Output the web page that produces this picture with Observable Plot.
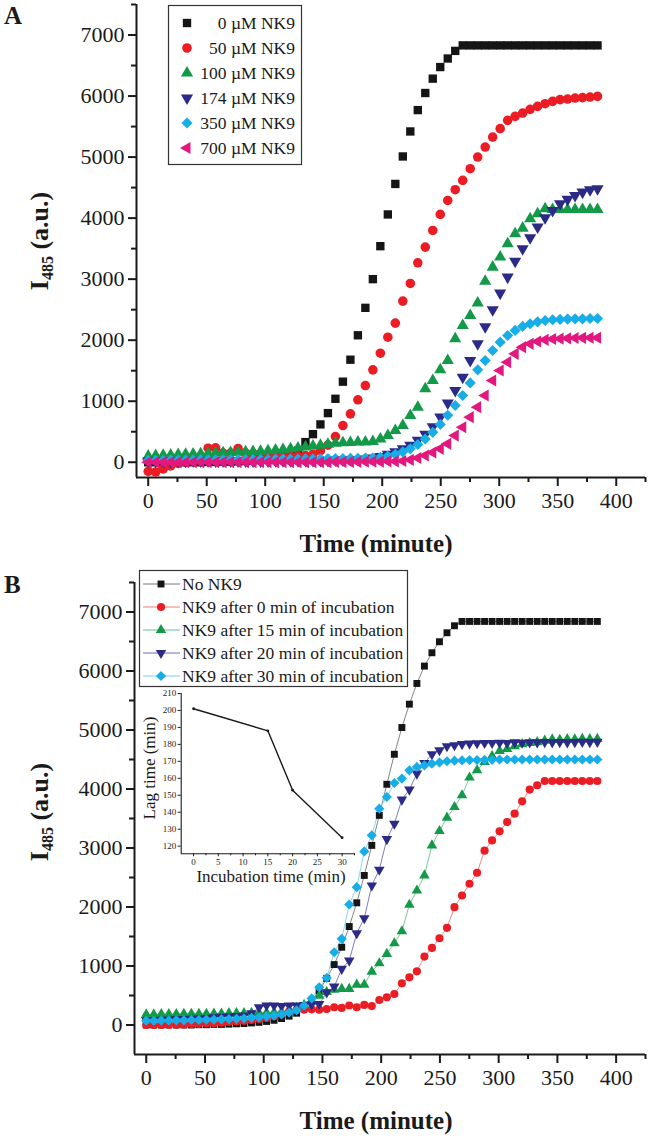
<!DOCTYPE html>
<html><head><meta charset="utf-8">
<script src="https://cdn.jsdelivr.net/npm/d3@7"></script>
<script src="https://cdn.jsdelivr.net/npm/@observablehq/plot@0.6"></script>
<style>
body{margin:0;background:#fff;}
#page{position:relative;width:652px;height:1139px;overflow:hidden;background:#fff;}
.layer{position:absolute;}
</style></head><body><div id="page"></div>
<script>
// ---------------- DATA ----------------
const timeMin = [0,6.4,12.8,19.2,25.6,32,38.4,44.8,51.2,57.6,64,70.4,76.8,83.2,89.6,96,102.4,108.8,115.2,121.6,128,134.4,140.8,147.2,153.6,160,166.4,172.8,179.2,185.6,192,198.4,204.8,211.2,217.6,224,230.4,236.8,243.2,249.6,256,262.4,268.8,275.2,281.6,288,294.4,300.8,307.2,313.6,320,326.4,332.8,339.2,345.6,352,358.4,364.8,371.2,377.6,384];

// Panel A: NK9 concentrations
const labelsA = ["0 \u00b5M NK9","50 \u00b5M NK9","100 \u00b5M NK9","174 \u00b5M NK9","350 \u00b5M NK9","700 \u00b5M NK9"];
const a0 = [0,0,0,0,0,0,0,0,5,5,10, 10,15,20,30,40,55,75,100,140,190,
  330,460,620,805,1040,1320,1680,2080,2530,3000,3540,4060,4560,5010,5420,5770,6050,6285,6475,6615,6740,
  6830,6830,6830,6830,6830,6830,6830,6830,6830,6830,6830,6830,6830,6830,6830,6830,6830,6830,6830];
const a50 = [-150,-160,-110,-60,-20,0,20,60,230,235, 150,150,225,150,140,120,110,100,100,100,
  100,110,130,190,280,420,
  601,793,1023,1257,1514,1787,2049,2279,2640,2930,3268,3525,3798,4061,4290,4466,4618,4810,5000,5164,5328,5466,5602,5667,5721,5782,5831,5875,5913,5941,5951,5967,5974,5984,5995];
const a100 = [100,110,115,120,125,130,135,140,145,150, 155,160,165,170,175,180,190,200,210,220,
  235,250,265,280,295,310,320,325,330,330,340,
  380,437,520,601,765,902,1203,1339,1514,1667,2022,2240,2404,2610,2965,3197,3361,3580,3744,3836,3990,4072,4154,
  4140,4140,4140,4140,4140,4140,4140];
const a174 = [20,15,20,15,20,15,20,20,20,20,20,20,20,20,20,20,20,25,25,25,25,30,30,30,30,35,
  35,40,45,55,70,95,130,170,
  220,280,360,460,580,740,970,1175,1393,1667,1940,2220,2498,2771,3033,3295,3498,3679,3853,4006,4126,4236,4307,4372,4426,4466,4480];
const a350 = [30,30,30,35,35,35,35,40,40,40,40,40,45,45,45,45,45,50,50,50,50,55,55,55,60,60,60,65,65,70,70,
  80,100,130,170,220,290,380,490,620,770,930,1093,1300,1514,1667,1831,1967,2077,2160,2226,2270,2300,2323,2335,2340,2345,2350,2350,2355,2355];
const a700 = [0,0,0,0,0,0,0,0,0,0,0,0,0,0,0,0,0,0,0,0,0,0,0,0,0,5,5,5,5,10,10,10,15,15,
  20,40,70,110,160,220,301,437,574,738,902,1093,1339,1503,1640,1776,1885,1940,1978,2005,2020,2025,2030,2035,2038,2040,2040];

// Panel B: NK9 added after incubation
const labelsB = ["No NK9","NK9 after 0 min of incubation","NK9 after 15 min of incubation","NK9 after 20 min of incubation","NK9 after 30 min of incubation"];
const bNo = [0,0,0,0,0,0,0,5,5,10,10, 15,20,25,35,45,60,80,110,150,
  200,290,420,580,790,1024,1318,1669,2071,2535,
  3044,3553,4080,4589,5042,5438,5789,6083,6309,6496,6648,6767,
  6840,6840,6840,6840,6840,6840,6840,6840,6840,6840,6840,6840,6840,6840,6840,6840,6840,6840,6840];
const b0 = [0,0,0,5,5,10,15,20,25,30, 40,50,60,70,85,100,120,150,190,230,
  250,260,265,260,270,300,290,330,300,340,320,
  424,469,526,706,808,910,1160,1307,1470,1647,1997,2195,2394,2581,2955,3129,3282,3440,3582,3791,3990,4063,4136,
  4136,4136,4136,4136,4136,4136,4136];
const b15 = [180,180,185,185,185,190,190,190,190,195,195,200,200,200,205,205,210,215,220,225,
  290,340,410,497,560,600,611,611,684,684,
  905,1046,1205,1385,1589,2037,2280,2535,3044,
  3287,3514,3694,3893,4194,4317,4458,4560,4645,4680,4725,4760,4780,4795,4820,4840,4835,4845,4840,4850,4845,4850];
const b20 = [80,85,90,90,95,100,105,110,120,130,140,145,150,160,200,
  300,330,330,320,330,330,340,350,356,
  554,650,951,1092,1555,1810,2365,2632,
  3150,3412,3820,3990,4261,4442,4589,4657,4725,4742,4760,4770,
  4775,4780,4780,4785,4780,4790,4785,4790,4790,4795,4790,4795,4790,4795,4800,4795,4800];
const b30 = [70,70,75,75,80,80,85,85,90,90,95,100,105,110,120,130,145,160,180,210,250,
  328,450,639,798,1233,1460,2042,2336,2942,
  3214,3667,3864,4102,4177,4317,4374,4400,4430,4450,4470,
  4480,4485,4490,4490,4495,4495,4500,4500,4500,4500,4500,4500,4500,4500,4500,4500,4500,4500,4500,4500];

// Inset: lag time vs incubation time
const incubation = [0, 15, 20, 30];
const lagTime = [201, 188, 153, 125];

// Tick values
const xTicks = [0,50,100,150,200,250,300,350,400];
const xMinor = [25,75,125,175,225,275,325,375,425];
const yTicks = [0,1000,2000,3000,4000,5000,6000,7000];
const yMinor = [-500,500,1500,2500,3500,4500,5500,6500,7500];
const insetXTicks = [0,5,10,15,20,25,30];
const insetXMinor = [2.5,7.5,12.5,17.5,22.5,27.5,32.5];
const insetYTicks = [120,130,140,150,160,170,180,190,200,210];

// ---------------- STYLE ----------------
const FONT = "'Liberation Serif','Times New Roman',Times,serif";
const INK = "#1a1a1a";
const COLORS = ["#151515","#ec1c24","#139a48","#2c2a87","#17aee8","#e2187e"];
const fmt = d3.format("d");
const SQ3 = Math.sqrt(3);
const symSquare = {draw(c,s){const h=Math.sqrt(s)/2;c.moveTo(-h,-h);c.lineTo(h,-h);c.lineTo(h,h);c.lineTo(-h,h);c.closePath();}};
const symCircle = d3.symbolCircle;
const symUp = {draw(c,s){const y=-Math.sqrt(s/(SQ3*3));c.moveTo(0,y*2);c.lineTo(-SQ3*y,-y);c.lineTo(SQ3*y,-y);c.closePath();}};
const symDown = {draw(c,s){const y=-Math.sqrt(s/(SQ3*3));c.moveTo(0,-y*2);c.lineTo(-SQ3*y,y);c.lineTo(SQ3*y,y);c.closePath();}};
const symLeft = {draw(c,s){const y=-Math.sqrt(s/(SQ3*3));c.moveTo(y*2,0);c.lineTo(-y,-SQ3*y);c.lineTo(-y,SQ3*y);c.closePath();}};
const symDiamond = {draw(c,s){const r=Math.sqrt(s/2);c.moveTo(0,-r);c.lineTo(r,0);c.lineTo(0,r);c.lineTo(-r,0);c.closePath();}};

const seriesA = [
  {vals:a0,  sym:symSquare, size:70, color:COLORS[0]},
  {vals:a50, sym:symCircle, size:72, color:COLORS[1]},
  {vals:a100,sym:symUp,     size:64, color:COLORS[2]},
  {vals:a174,sym:symDown,   size:64, color:COLORS[3]},
  {vals:a350,sym:symDiamond,size:62, color:COLORS[4]},
  {vals:a700,sym:symLeft,   size:64, color:COLORS[5]}
];
const seriesB = [
  {vals:bNo, sym:symSquare, size:48, color:COLORS[0], line:"#777"},
  {vals:b0,  sym:symCircle, size:52, color:COLORS[1], line:"#f07a7e"},
  {vals:b15, sym:symUp,     size:48, color:COLORS[2], line:"#6cc08a"},
  {vals:b20, sym:symDown,   size:48, color:COLORS[3], line:"#6f6db8"},
  {vals:b30, sym:symDiamond,size:52, color:COLORS[4], line:"#79d0f2"}
];
const rOf = s => Math.sqrt(s/Math.PI);
const rows = vals => timeMin.map((t,i)=>({t, v: vals[i]}));

function axesMarks(xd, yd){
  return [
    Plot.ruleX([xd[0]], {stroke: INK, strokeWidth: 2}),
    Plot.ruleY([yd[0]], {stroke: INK, strokeWidth: 2}),
    Plot.axisX({ticks: xTicks, tickSize: 9, tickPadding: 6, strokeWidth: 2, label: null, fontSize: 22, tickFormat: fmt}),
    Plot.axisX({ticks: xMinor, tickSize: 5, strokeWidth: 2, label: null, tickFormat: () => ""}),
    Plot.axisY({ticks: yTicks, tickSize: 8, tickPadding: 4, strokeWidth: 2, label: null, fontSize: 22, tickFormat: fmt}),
    Plot.axisY({ticks: yMinor.filter(v => v > yd[0] && v <= yd[1]), tickSize: 5, strokeWidth: 2, label: null, tickFormat: () => ""})
  ];
}

const page = document.getElementById("page");
function place(node, left, top){
  const d = document.createElement("div");
  d.className = "layer"; d.style.left = left+"px"; d.style.top = top+"px";
  d.append(node); page.append(d);
}

// ---------------- PANEL A ----------------
const xdom = [-10, 425];
const ydomA = [-250, 7500];
const plotA = Plot.plot({
  width: 652, height: 560,
  marginLeft: 136, marginRight: 7, marginTop: 4, marginBottom: 83,
  x: {domain: xdom, label: null},
  y: {domain: ydomA, label: null},
  style: {fontFamily: FONT, fontSize: "22px", color: INK, background: "transparent", overflow: "visible"},
  marks: [
    ...axesMarks(xdom, ydomA),
    ...seriesA.map(s => Plot.dot(rows(s.vals), {x: "t", y: "v", symbol: s.sym, r: rOf(s.size), fill: s.color, stroke: "none"}))
  ]
});
place(plotA, 0, 0);

// ---------------- PANEL B ----------------
const ydomB = [-500, 7500];
const plotB = Plot.plot({
  width: 652, height: 579,
  marginLeft: 134, marginRight: 7, marginTop: 22, marginBottom: 85,
  x: {domain: xdom, label: null},
  y: {domain: ydomB, label: null},
  style: {fontFamily: FONT, fontSize: "22px", color: INK, background: "transparent", overflow: "visible"},
  marks: [
    ...axesMarks(xdom, ydomB),
    ...seriesB.map(s => Plot.line(rows(s.vals), {x: "t", y: "v", stroke: s.line, strokeWidth: 0.9})),
    ...seriesB.map(s => Plot.dot(rows(s.vals), {x: "t", y: "v", symbol: s.sym, r: rOf(s.size), fill: s.color, stroke: "none"}))
  ]
});
place(plotB, 0, 560);

// ---------------- INSET ----------------
const insetRows = incubation.map((x,i)=>({x, y: lagTime[i]}));
const plotI = Plot.plot({
  width: 225, height: 205,
  marginLeft: 40.7, marginRight: 10, marginTop: 8, marginBottom: 36.7,
  x: {domain: [-2.5, 32.7], label: null},
  y: {domain: [115.5, 210], label: null},
  style: {fontFamily: FONT, fontSize: "9px", color: INK, background: "transparent", overflow: "visible"},
  marks: [
    Plot.ruleX([-2.5], {stroke: INK, strokeWidth: 1.1}),
    Plot.ruleY([115.5], {stroke: INK, strokeWidth: 1.1}),
    Plot.axisX({ticks: insetXTicks, tickSize: 3, tickPadding: 2, label: null, fontSize: 9, tickFormat: fmt}),
    Plot.axisX({ticks: insetXMinor, tickSize: 2, label: null, tickFormat: () => ""}),
    Plot.axisY({ticks: insetYTicks, tickSize: 3, tickPadding: 2, label: null, fontSize: 9, tickFormat: fmt}),
    Plot.line(insetRows, {x: "x", y: "y", stroke: INK, strokeWidth: 1.4}),
    Plot.dot(insetRows, {x: "x", y: "y", r: 1.4, fill: INK, stroke: "none"})
  ]
});
place(plotI, 140, 685);

// ---------------- OVERLAY: titles, legends ----------------
const ov = d3.create("svg").attr("width", 652).attr("height", 1139)
  .style("position","absolute").style("left","0").style("top","0")
  .style("font-family", FONT).style("pointer-events","none");
const T = (x,y,txt,opts={}) => {
  const t = ov.append("text").attr("x",x).attr("y",y).attr("fill",INK).text(txt);
  for (const [k,v] of Object.entries(opts)) t.attr(k,v);
  return t;
};
// panel letters
T(4, 24, "A", {"font-size":25, "font-weight":"bold"});
T(4, 593, "B", {"font-size":25, "font-weight":"bold"});
// x titles
T(376, 552, "Time (minute)", {"font-size":25, "font-weight":"bold", "text-anchor":"middle"});
T(376, 1129, "Time (minute)", {"font-size":25, "font-weight":"bold", "text-anchor":"middle"});
// y titles with subscript
function yTitle(cx, cy){
  const t = ov.append("text").attr("transform",`translate(${cx},${cy}) rotate(-90)`)
    .attr("text-anchor","middle").attr("font-size",26).attr("font-weight","bold").attr("fill",INK);
  t.append("tspan").text("I");
  t.append("tspan").attr("font-size",16).attr("dy",5).text("485");
  t.append("tspan").attr("dy",-5).text(" (a.u.)");
}
yTitle(48, 241);
yTitle(48, 812);
// inset titles
T(271, 882, "Incubation time (min)", {"font-size":17, "text-anchor":"middle"});
ov.append("text").attr("transform","translate(155,768) rotate(-90)").attr("text-anchor","middle")
  .attr("font-size",17).attr("fill",INK).text("Lag time (min)");

function symPath(sym, size){ const p = d3.path(); sym.draw(p, size); return p.toString(); }

// legend A
ov.append("rect").attr("x",168.5).attr("y",5.5).attr("width",133).attr("height",159)
  .attr("fill","#fff").attr("stroke","#333").attr("stroke-width",1.2);
seriesA.forEach((s,i)=>{
  const y = 23 + 25*i;
  ov.append("path").attr("d", symPath(s.sym, s.size)).attr("transform",`translate(187,${y})`).attr("fill", s.color);
  T(295, y+6, labelsA[i], {"font-size":17.5, "text-anchor":"end"});
});
// legend B
ov.append("rect").attr("x",139.5).attr("y",570.5).attr("width",268).attr("height",116)
  .attr("fill","#fff").attr("stroke","#333").attr("stroke-width",1.2);
seriesB.forEach((s,i)=>{
  const y = 584 + 23*i;
  ov.append("line").attr("x1",143).attr("x2",180).attr("y1",y).attr("y2",y).attr("stroke",s.line).attr("stroke-width",1);
  ov.append("path").attr("d", symPath(s.sym, s.size)).attr("transform",`translate(161,${y})`).attr("fill", s.color);
  T(182, y+6, labelsB[i], {"font-size":17.5});
});
page.append(ov.node());
</script></body></html>
